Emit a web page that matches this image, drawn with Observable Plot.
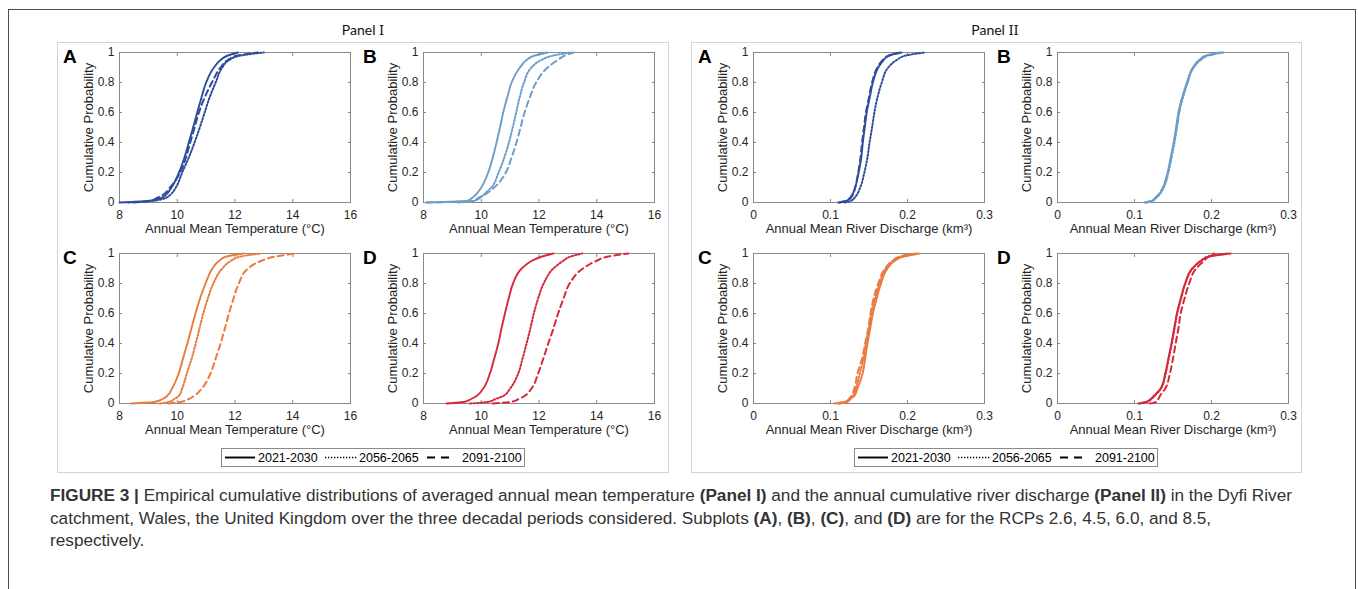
<!DOCTYPE html>
<html><head><meta charset="utf-8">
<script src="https://cdn.jsdelivr.net/npm/d3@7"></script>
<script src="https://cdn.jsdelivr.net/npm/@observablehq/plot@0.6"></script>
<style>
html,body{margin:0;padding:0;background:#fff;}
body{width:1358px;height:589px;position:relative;overflow:hidden;font-family:"Liberation Sans",Arial,sans-serif;}
.abs{position:absolute;}
.outer{left:8px;top:9px;width:1346px;height:640px;border:1px solid #4d4d4d;}
.pbox{border:1.5px solid #d4d4d4;}
.ptitle{font-family:Lato,"Open Sans",sans-serif;font-size:14px;color:#111;transform:translateX(-50%);white-space:nowrap;}
.ptitle span{font-family:"DejaVu Serif","Liberation Serif",serif;font-size:13px;}
.letter{font-weight:bold;font-size:19px;line-height:19px;color:#000;}
.caption{left:50px;top:484px;font-size:17.2px;line-height:22.5px;color:#333;white-space:nowrap;}
.plot svg{background:transparent;overflow:visible;}
</style></head>
<body>
<div class="abs outer"></div>
<div class="abs pbox" style="left:57px;top:42px;width:610px;height:429px;"></div>
<div class="abs pbox" style="left:691px;top:42px;width:609px;height:429px;"></div>
<div class="abs ptitle" style="left:363px;top:21px;">Panel <span>I</span></div>
<div class="abs ptitle" style="left:995px;top:21px;">Panel <span>II</span></div>
<div id="plots"></div>
<div class="abs caption"><b>FIGURE 3 |</b> Empirical cumulative distributions of averaged annual mean temperature <b>(Panel I)</b> and the annual cumulative river discharge <b>(Panel II)</b> in the Dyfi River<br>catchment, Wales, the United Kingdom over the three decadal periods considered. Subplots <b>(A)</b>, <b>(B)</b>, <b>(C)</b>, and <b>(D)</b> are for the RCPs 2.6, 4.5, 6.0, and 8.5,<br>respectively.</div>
<script>
// ---------- data ----------
const periods = ["2021-2030", "2056-2065", "2091-2100"];
const probLevels = [0, 0.01, 0.03, 0.05, 0.1, 0.2, 0.3, 0.4, 0.5, 0.6, 0.7, 0.8, 0.9, 0.95, 0.98, 1];
const yTicks = [0, 0.2, 0.4, 0.6, 0.8, 1];
const tempTicks = [8, 10, 12, 14, 16];
const dischargeTicks = [0, 0.1, 0.2, 0.3];
const rcpLetters = ["A", "B", "C", "D"];
const rcpColors = ["#2f4b9c", "#6d9dc8", "#ea7a3e", "#d42a3a"];
const tempLabel = "Annual Mean Temperature (°C)";
const dischargeLabel = "Annual Mean River Discharge (km³)";
const yLabel = "Cumulative Probability";

// Panel I: annual mean temperature quantiles (°C) at probLevels
const tempA_2021 = [8.0, 9.0, 9.45, 9.6, 9.8, 10.06, 10.25, 10.4, 10.55, 10.69, 10.84, 11.0, 11.27, 11.5, 11.75, 12.1];
const tempA_2056 = [8.3, 9.1, 9.6, 9.75, 9.95, 10.17, 10.4, 10.6, 10.78, 10.95, 11.12, 11.33, 11.56, 11.8, 12.2, 13.0];
const tempA_2091 = [8.5, 9.0, 9.3, 9.5, 9.75, 10.1, 10.3, 10.45, 10.6, 10.75, 10.95, 11.2, 11.5, 11.75, 12.1, 12.8];
const tempB_2021 = [8.1, 9.5, 9.68, 9.8, 10.0, 10.24, 10.4, 10.53, 10.65, 10.76, 10.9, 11.05, 11.34, 11.57, 11.85, 12.3];
const tempB_2056 = [9.2, 9.75, 9.95, 10.07, 10.35, 10.6, 10.8, 10.96, 11.09, 11.21, 11.33, 11.48, 11.74, 12.08, 12.5, 13.1];
const tempB_2091 = [8.1, 9.7, 9.9, 10.1, 10.45, 10.85, 11.05, 11.22, 11.36, 11.5, 11.68, 11.9, 12.3, 12.65, 12.9, 13.2];
const tempC_2021 = [8.4, 9.2, 9.5, 9.65, 9.82, 10.05, 10.2, 10.35, 10.49, 10.63, 10.79, 10.98, 11.22, 11.44, 11.7, 12.3];
const tempC_2056 = [9.4, 9.7, 9.9, 10.05, 10.17, 10.33, 10.5, 10.64, 10.77, 10.9, 11.06, 11.25, 11.56, 11.85, 12.2, 12.9];
const tempC_2091 = [9.7, 10.1, 10.4, 10.58, 10.85, 11.15, 11.33, 11.5, 11.65, 11.79, 11.95, 12.13, 12.45, 12.9, 13.4, 14.1];
const tempD_2021 = [8.8, 9.4, 9.65, 9.84, 10.07, 10.3, 10.45, 10.59, 10.7, 10.82, 10.95, 11.1, 11.4, 11.74, 12.1, 12.5];
const tempD_2056 = [9.6, 10.2, 10.5, 10.76, 11.0, 11.28, 11.43, 11.57, 11.7, 11.82, 11.97, 12.16, 12.5, 12.83, 13.1, 13.5];
const tempD_2091 = [10.4, 11.0, 11.3, 11.5, 11.74, 11.97, 12.15, 12.32, 12.5, 12.66, 12.85, 13.06, 13.52, 13.98, 14.4, 15.1];

// Panel II: annual river discharge quantiles (km³) at probLevels
const flowA_2021 = [0.11, 0.12, 0.125, 0.128, 0.132, 0.1365, 0.14, 0.142, 0.1445, 0.147, 0.151, 0.155, 0.162, 0.169, 0.176, 0.19];
const flowA_2056 = [0.118, 0.126, 0.131, 0.134, 0.1386, 0.144, 0.148, 0.1507, 0.154, 0.157, 0.161, 0.1666, 0.175, 0.186, 0.198, 0.2226];
const flowA_2091 = [0.112, 0.121, 0.126, 0.129, 0.132, 0.136, 0.139, 0.141, 0.1435, 0.146, 0.15, 0.154, 0.161, 0.168, 0.176, 0.193];
const flowB_2021 = [0.113, 0.122, 0.127, 0.131, 0.137, 0.143, 0.147, 0.151, 0.154, 0.157, 0.162, 0.168, 0.176, 0.184, 0.193, 0.21];
const flowB_2056 = [0.115, 0.123, 0.128, 0.132, 0.138, 0.144, 0.148, 0.152, 0.155, 0.158, 0.163, 0.169, 0.177, 0.186, 0.195, 0.2156];
const flowB_2091 = [0.114, 0.122, 0.127, 0.131, 0.137, 0.1435, 0.148, 0.151, 0.155, 0.158, 0.162, 0.169, 0.176, 0.185, 0.196, 0.214];
const flowC_2021 = [0.105, 0.118, 0.125, 0.131, 0.135, 0.1417, 0.145, 0.148, 0.1515, 0.155, 0.16, 0.1656, 0.174, 0.183, 0.195, 0.2154];
const flowC_2056 = [0.112, 0.121, 0.126, 0.129, 0.133, 0.138, 0.143, 0.146, 0.15, 0.153, 0.158, 0.164, 0.172, 0.181, 0.192, 0.212];
const flowC_2091 = [0.11, 0.12, 0.124, 0.127, 0.131, 0.135, 0.141, 0.145, 0.149, 0.152, 0.156, 0.162, 0.171, 0.18, 0.19, 0.205];
const flowD_2021 = [0.105, 0.115, 0.121, 0.125, 0.134, 0.14, 0.144, 0.148, 0.1515, 0.155, 0.16, 0.1657, 0.175, 0.186, 0.197, 0.225];
const flowD_2056 = [0.107, 0.116, 0.122, 0.126, 0.1345, 0.1405, 0.1445, 0.1485, 0.152, 0.1555, 0.1605, 0.166, 0.1755, 0.186, 0.196, 0.22];
const flowD_2091 = [0.12, 0.128, 0.131, 0.133, 0.14, 0.146, 0.15, 0.1535, 0.157, 0.16, 0.165, 0.171, 0.18, 0.19, 0.196, 0.2035];

// ---------- layout ----------
const dashes = [null, "1.5,2", "6,4"];
const widths = [1.9, 2, 2];
const frameW = 231, frameH = 150, mL = 60, mR = 10, mT = 8, mB = 42;
const root = document.getElementById("plots");

function toRows(arr) { return arr.map((x, i) => ({x, p: probLevels[i]})); }

function makeSubplot({series, xDomain, xTicks, xLabel, color, left, top, letter, letterLeft}) {
  const fmt = d => String(d);
  const marks = [
    Plot.frame({stroke: "#8a8a8a", strokeWidth: 1}),
    Plot.axisX({anchor: "bottom", ticks: xTicks, tickSize: -3, tickPadding: 11, tickFormat: fmt, label: null, stroke: "#8a8a8a", fill: "#262626"}),
    Plot.axisX({anchor: "top", ticks: xTicks, tickSize: -3, tickFormat: () => "", label: null, stroke: "#8a8a8a"}),
    Plot.axisY({anchor: "left", ticks: yTicks, tickSize: -3, tickPadding: 8, tickFormat: fmt, label: null, stroke: "#8a8a8a", fill: "#262626"}),
    Plot.axisY({anchor: "right", ticks: yTicks, tickSize: -3, tickFormat: () => "", label: null, stroke: "#8a8a8a"}),
    Plot.text([xLabel], {text: d => d, frameAnchor: "bottom", textAnchor: "middle", dy: 30, fontSize: 13, fill: "#262626"}),
    Plot.text([yLabel], {text: d => d, frameAnchor: "left", textAnchor: "middle", rotate: -90, dx: -31, fontSize: 13, fill: "#262626"})
  ];
  series.forEach((arr, i) => {
    marks.push(Plot.line(toRows(arr), {x: "x", y: "p", stroke: color, strokeWidth: widths[i], strokeDasharray: dashes[i], curve: "monotone-y"}));
  });
  const svg = Plot.plot({
    width: mL + frameW + mR, height: mT + frameH + mB,
    marginLeft: mL, marginRight: mR, marginTop: mT, marginBottom: mB,
    style: {fontFamily: '"Liberation Sans", Arial, sans-serif', fontSize: "12px", color: "#262626", background: "transparent"},
    x: {domain: xDomain},
    y: {domain: [0, 1]},
    marks
  });
  const wrap = document.createElement("div");
  wrap.className = "abs plot";
  wrap.style.left = (left - mL) + "px";
  wrap.style.top = (top - mT) + "px";
  wrap.appendChild(svg);
  root.appendChild(wrap);
  const lt = document.createElement("div");
  lt.className = "abs letter";
  lt.style.left = letterLeft + "px";
  lt.style.top = (top - 5.5) + "px";
  lt.textContent = letter;
  root.appendChild(lt);
}

const tempSeries = [[tempA_2021, tempA_2056, tempA_2091], [tempB_2021, tempB_2056, tempB_2091], [tempC_2021, tempC_2056, tempC_2091], [tempD_2021, tempD_2056, tempD_2091]];
const flowSeries = [[flowA_2021, flowA_2056, flowA_2091], [flowB_2021, flowB_2056, flowB_2091], [flowC_2021, flowC_2056, flowC_2091], [flowD_2021, flowD_2056, flowD_2091]];
const gridLefts = [[119, 423], [753, 1057]];
const gridTops = [52, 253];
const letterLefts = [[63, 363], [698, 997]];

for (let k = 0; k < 4; k++) {
  const col = k % 2, row = Math.floor(k / 2);
  makeSubplot({series: tempSeries[k], xDomain: [8, 16], xTicks: tempTicks, xLabel: tempLabel, color: rcpColors[k],
    left: gridLefts[0][col], top: gridTops[row], letter: rcpLetters[k], letterLeft: letterLefts[0][col]});
  makeSubplot({series: flowSeries[k], xDomain: [0, 0.3], xTicks: dischargeTicks, xLabel: dischargeLabel, color: rcpColors[k],
    left: gridLefts[1][col], top: gridTops[row], letter: rcpLetters[k], letterLeft: letterLefts[1][col]});
}

// ---------- legends ----------
function makeLegend(left) {
  const w = 304, h = 19;
  const svg = d3.create("svg").attr("width", w).attr("height", h).style("position", "absolute").style("left", left + "px").style("top", "448px").style("background", "#fff");
  svg.append("rect").attr("x", 0.5).attr("y", 0.5).attr("width", w - 1).attr("height", h - 1).attr("fill", "#fff").attr("stroke", "#8a8a8a");
  const samples = [[4, 34, 37], [104, 136, 138], [206, 228, 241]];
  periods.forEach((p, i) => {
    const [x1, x2, tx] = samples[i];
    svg.append("line").attr("x1", x1).attr("x2", x2).attr("y1", 9.5).attr("y2", 9.5).attr("stroke", "#000").attr("stroke-width", i === 1 ? 1.4 : 1.9)
      .attr("stroke-dasharray", i === 1 ? "1.3,1.7" : i === 2 ? "8,6" : null);
    svg.append("text").attr("x", tx).attr("y", 14).attr("font-size", 12.5).attr("font-family", '"Liberation Sans", Arial, sans-serif').attr("fill", "#000").text(p);
  });
  document.body.appendChild(svg.node());
}
makeLegend(221);
makeLegend(854);
</script>
</body></html>
